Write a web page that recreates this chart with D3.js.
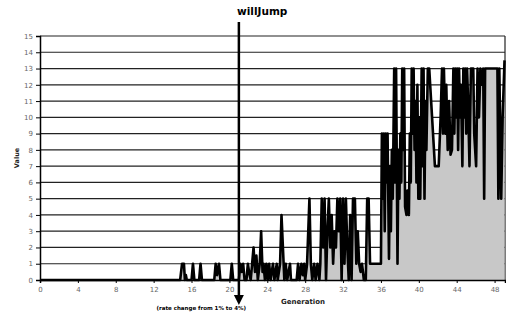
<!DOCTYPE html>
<html><head><meta charset="utf-8">
<script src="https://cdn.jsdelivr.net/npm/d3@7/dist/d3.min.js"></script>
<style>body{margin:0;background:#fff}svg{display:block}text{font-family:"DejaVu Sans",sans-serif}</style>
</head><body>
<script>
// [generation, value] vertices
var early = [[0,0],[14.8,0],[15.0,1],[15.2,1],[15.3,0],[15.4,0.3],[15.5,0],
  [16.0,0],[16.15,1],[16.3,0],[16.8,0],[16.95,1],[17.1,0],
  [18.4,0],[18.55,1],[18.7,0.3],[18.9,1],[19.05,0],[20.1,0],[20.25,1],[20.4,0],
  [21.0,0],[21.15,1],[21.3,0.5],[21.45,1],[21.6,0],[21.8,0],[21.95,1],[22.1,0.4],[22.25,0],
  [22.4,1],[22.55,2],[22.7,0.5],[22.85,1.5],[23.0,0],[23.2,1],[23.35,3],[23.5,0.5],[23.6,1],
  [23.75,0],[23.9,1],[24.05,0],[24.2,1],[24.35,0],[24.6,1],[24.75,0],[25.0,1],[25.1,0],
  [25.35,1],[25.5,4],[25.65,2],[25.8,0],[25.95,1],[26.1,0],[26.4,1],[26.5,0],
  [27.1,0],[27.25,1],[27.4,0],[27.6,1],[27.75,0.3],[27.9,1],[28.0,0]];
var middle = [[28.2,1],[28.45,5],[28.6,1],[28.75,0],[28.95,1],[29.1,0],[29.3,1],[29.5,0],
  [29.6,1],[29.75,5],[29.9,2],[30.05,5],[30.2,0],[30.35,3],[30.5,5],[30.65,2],[30.8,4],
  [30.95,1],[31.1,3],[31.25,2],[31.4,5],[31.55,3],[31.7,5],[31.85,0],[32.0,5],[32.15,1],
  [32.3,5],[32.45,2],[32.6,0],[32.75,4],[32.9,0],[33.05,5],[33.25,5],[33.4,1],[33.55,3],
  [33.7,1],[33.85,0.5],[34.0,1],[34.2,0],[34.4,0],[34.55,5],[34.7,5],[34.85,1],[36.0,1]];
var late = [[36.1,9],[36.2,5],[36.3,9],[36.4,3],[36.5,9],[36.6,6],[36.7,9],[36.85,1.3],
  [36.95,7],[37.05,3],[37.15,8],[37.25,5],[37.4,13],[37.5,6],[37.6,13],[37.75,1],[37.85,8],
  [37.95,5],[38.05,9],[38.15,6],[38.25,13],[38.35,8],[38.45,13],[38.55,4.5],[38.7,4],
  [38.8,5.5],[38.95,4],[39.05,9],[39.15,6],[39.25,13],[39.35,9],[39.45,13],[39.55,8],
  [39.65,11],[39.75,6],[39.85,12],[39.95,5],[40.05,10],[40.15,5],[40.3,13],[40.4,7],
  [40.5,13],[40.6,5],[40.7,11],[40.8,8],[40.95,13],[41.1,13],[41.3,11],[41.5,9],[41.7,7],
  [42.1,7],[42.3,10],[42.45,13],[42.55,9],[42.65,13],[42.8,9],[42.9,12],[43.05,8],[43.2,11],
  [43.35,7.7],[43.5,8],[43.65,13],[43.75,9],[43.85,13],[43.95,10],[44.05,13],[44.15,8],
  [44.25,13],[44.35,10],[44.45,12],[44.6,7],[44.7,13],[44.8,10],[44.9,13],[45.0,9],[45.1,13],
  [45.2,11],[45.35,7],[45.5,13],[45.75,13],[45.85,9],[46.05,7],[46.2,13],[46.35,10],[46.5,13],
  [46.65,12],[46.8,13],[46.9,5],[47.0,13],[48.3,13],[48.4,5],[48.5,13],[48.65,7],[48.7,5],
  [48.85,10],[49.05,13.5]];
var yTicks = [0,1,2,3,4,5,6,7,8,9,10,11,12,13,14,15];
var xTicks = [0,4,8,12,16,20,24,28,32,36,40,44,48];
var markGen = 21;

var points = early.concat(middle, late);

var svg = d3.select("body").append("svg").attr("width", 506).attr("height", 312);
var x = d3.scaleLinear().domain([0, 49.1]).range([40, 505]);
var y = d3.scaleLinear().domain([0, 15]).range([280, 36]);

svg.selectAll("line.grid")
  .data(yTicks.slice(1))
.enter()
  .append("line")
  .attr("x1", 40).attr("x2", 505)
  .attr("y1", function(d) { return y(d); })
  .attr("y2", function(d) { return y(d); })
  .attr("stroke", "#222")
  .attr("stroke-width", 1.2);

svg.append("line")
  .attr("x1", 505).attr("x2", 505).attr("y1", y(15)).attr("y2", y(0))
  .attr("stroke", "#222").attr("stroke-width", 1.2);

var area = d3.area()
  .x(function(d) { return x(d[0]); })
  .y0(y(0))
  .y1(function(d) { return y(d[1]); });
var line = d3.line()
  .x(function(d) { return x(d[0]); })
  .y(function(d) { return y(d[1]); });

svg.append("path").attr("d", area(points)).attr("fill", "#c8c8c8");
svg.append("path").attr("d", line(points))
  .attr("fill", "none").attr("stroke", "#000").attr("stroke-width", 2.6)
  .attr("stroke-linejoin", "round");

var yAxis = svg.append("g").attr("transform", "translate(40,0)")
  .call(d3.axisLeft(y).tickValues(yTicks).tickSize(4).tickPadding(3));
var xAxis = svg.append("g").attr("transform", "translate(0,280)")
  .call(d3.axisBottom(x).tickValues(xTicks).tickSize(3).tickPadding(4));
[yAxis, xAxis].forEach(function(g) {
  g.select(".domain").attr("stroke", "#000").attr("stroke-width", 1.5);
  g.selectAll(".tick line").attr("stroke", "#000");
  g.selectAll(".tick text").attr("fill", "#666").attr("font-size", 7)
    .attr("font-family", "DejaVu Sans, sans-serif");
});

svg.append("text").attr("x", 303).attr("y", 304).attr("text-anchor", "middle")
  .attr("font-size", 7).attr("font-weight", "bold").attr("fill", "#222").text("Generation");
svg.append("text").attr("transform", "translate(19,158) rotate(-90)").attr("text-anchor", "middle")
  .attr("font-size", 6.5).attr("font-weight", "bold").attr("fill", "#222").text("Value");

// willJump marker
var ax = x(markGen);
svg.append("line").attr("x1", ax).attr("x2", ax).attr("y1", 22).attr("y2", 298)
  .attr("stroke", "#000").attr("stroke-width", 2.5);
svg.append("path").attr("d", "M" + (ax - 5) + ",295L" + (ax + 5) + ",295L" + ax + ",305Z").attr("fill", "#000");
svg.append("text").attr("x", 237).attr("y", 15)
  .attr("font-size", 10.5).attr("font-weight", "bold").text("willJump");
svg.append("text").attr("x", 246).attr("y", 310).attr("text-anchor", "end")
  .attr("font-size", 5.5).attr("font-weight", "bold").text("(rate change from 1% to 4%)");
</script>
</body></html>
